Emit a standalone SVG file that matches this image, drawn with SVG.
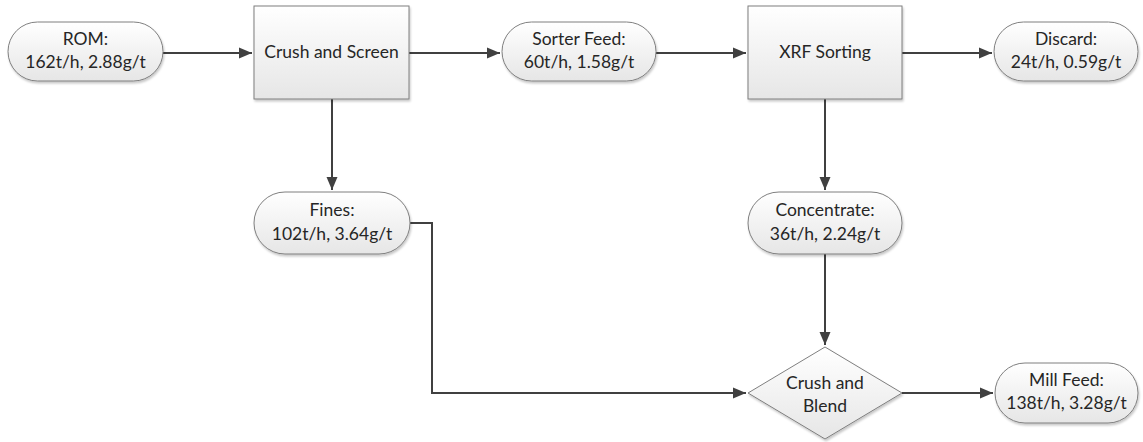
<svg xmlns="http://www.w3.org/2000/svg" width="1143" height="442" viewBox="0 0 1143 442">
<style>
.node{fill:url(#g);stroke:#7f7f7f;stroke-width:1;filter:url(#sh)}
.t{font-family:Lato,"Open Sans","Liberation Sans",sans-serif;font-size:17.5px;fill:#262626;text-anchor:middle}
.c{fill:none;stroke:#404040;stroke-width:2}
</style>
<defs>
<linearGradient id="g" x1="0" y1="0" x2="0" y2="1">
<stop offset="0" stop-color="#ffffff"/>
<stop offset="1" stop-color="#e6e6e6"/>
</linearGradient>
<filter id="sh" x="-10%" y="-10%" width="120%" height="130%">
<feDropShadow dx="1" dy="2" stdDeviation="1.2" flood-color="#000" flood-opacity="0.22"/>
</filter>
<marker id="a" markerUnits="userSpaceOnUse" markerWidth="14" markerHeight="12" refX="13" refY="6" orient="auto">
<path d="M0,0.5 L13,6 L0,11.5 Z" fill="#404040"/>
</marker>
</defs>

<g id="connectors">
<path class="c" d="M163,53 H252" marker-end="url(#a)"/>
<path class="c" d="M409,53 H500" marker-end="url(#a)"/>
<path class="c" d="M656,53 H746" marker-end="url(#a)"/>
<path class="c" d="M902,53 H992" marker-end="url(#a)"/>
<path class="c" d="M332,99 V190" marker-end="url(#a)"/>
<path class="c" d="M825,99 V190" marker-end="url(#a)"/>
<path class="c" d="M825,254 V345" marker-end="url(#a)"/>
<path class="c" d="M410,223 H432 V393 H746" marker-end="url(#a)"/>
<path class="c" d="M902,393 H993" marker-end="url(#a)"/>
</g>

<g id="rom">
<rect class="node" x="8" y="22" width="155" height="59" rx="29.5"/>
<text class="t" x="85.5" y="45">ROM:</text>
<text class="t" x="85.5" y="68">162t/h, 2.88g/t</text>
</g>

<g id="crush-screen">
<rect class="node" x="254" y="6" width="155" height="93"/>
<text class="t" x="331.5" y="58">Crush and Screen</text>
</g>

<g id="sorter-feed">
<rect class="node" x="502" y="22" width="154" height="59" rx="29.5"/>
<text class="t" x="579" y="45">Sorter Feed:</text>
<text class="t" x="579" y="68">60t/h, 1.58g/t</text>
</g>

<g id="xrf">
<rect class="node" x="748" y="6" width="154" height="93"/>
<text class="t" x="825" y="58">XRF Sorting</text>
</g>

<g id="discard">
<rect class="node" x="994" y="22" width="144" height="59" rx="29.5"/>
<text class="t" x="1066" y="45">Discard:</text>
<text class="t" x="1066" y="68">24t/h, 0.59g/t</text>
</g>

<g id="fines">
<rect class="node" x="254" y="192" width="156" height="62" rx="31"/>
<text class="t" x="332" y="216">Fines:</text>
<text class="t" x="332" y="240">102t/h, 3.64g/t</text>
</g>

<g id="concentrate">
<rect class="node" x="748" y="192" width="154" height="62" rx="31"/>
<text class="t" x="825" y="216">Concentrate:</text>
<text class="t" x="825" y="240">36t/h, 2.24g/t</text>
</g>

<g id="crush-blend">
<polygon class="node" points="748,393 825,347 902,393 825,439"/>
<text class="t" x="825" y="389">Crush and</text>
<text class="t" x="825" y="412">Blend</text>
</g>

<g id="mill-feed">
<rect class="node" x="995" y="363" width="143" height="60" rx="30"/>
<text class="t" x="1066.5" y="386">Mill Feed:</text>
<text class="t" x="1066.5" y="409">138t/h, 3.28g/t</text>
</g>
</svg>
